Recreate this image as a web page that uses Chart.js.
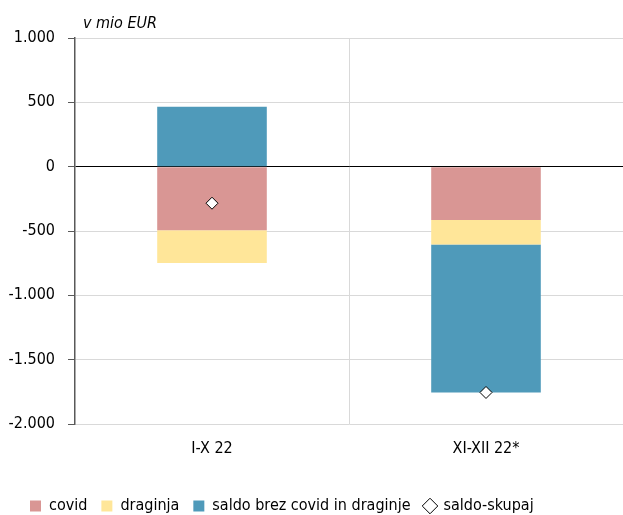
<!DOCTYPE html>
<html>
<head>
<meta charset="utf-8">
<script src="https://cdn.jsdelivr.net/npm/chart.js@4.4.0/dist/chart.umd.min.js"></script>
<style>
  html, body { margin: 0; padding: 0; background: #fff; }
  #wrap { width: 623px; height: 515px; position: relative; }
</style>
</head>
<body>
<div id="wrap"><canvas id="saldo"></canvas></div>
<script>
var kategorije = ['I-X 22', 'XI-XII 22*'];
var covid = [-495, -415];
var draginja = [-254, -190];
var saldoBrez = [465, -1150];
var saldoSkupaj = [-284, -1755];
var yTicks = [1000, 500, 0, -500, -1000, -1500, -2000];

var pisava = "'DejaVu Sans Condensed', 'DejaVu Sans', sans-serif";

function tisoc(v) {
  var s = Math.abs(v).toString().replace(/\B(?=(\d{3})+(?!\d))/g, '.');
  return (v < 0 ? '-' : '') + s;
}

// napis enote nad osjo, legenda malo v desno
var enota = {
  id: 'enota',
  afterLayout: function(chart) {
    chart.legend.left += 16;
    chart.legend.right += 16;
  },
  afterDraw: function(chart) {
    var c = chart.ctx;
    c.save();
    c.font = 'italic 16px ' + pisava;
    c.fillStyle = '#000';
    c.textBaseline = 'alphabetic';
    c.fillText('v mio EUR', 83, 28);
    c.restore();
  }
};

var ctx = document.getElementById('saldo');
var graf = new Chart(ctx, {
  type: 'bar',
  data: {
    labels: kategorije,
    datasets: [
      { label: 'covid', data: covid, backgroundColor: '#d99694', stack: 's', order: 2 },
      { label: 'draginja', data: draginja, backgroundColor: '#ffe699', stack: 's', order: 2 },
      { label: 'saldo brez covid in draginje', data: saldoBrez, backgroundColor: '#4f9aba', stack: 's', order: 2 },
      {
        type: 'line', label: 'saldo-skupaj', data: saldoSkupaj, stack: 'skupaj', order: 1,
        showLine: false, pointStyle: 'rectRot', pointRadius: 6, pointHoverRadius: 6,
        pointBackgroundColor: '#fff', pointBorderColor: '#000', pointBorderWidth: 1,
        backgroundColor: '#fff', borderColor: '#000', borderWidth: 1
      }
    ]
  },
  options: {
    responsive: true,
    maintainAspectRatio: false,
    animation: false,
    layout: { autoPadding: false, padding: { left: 0, right: 0, top: 38, bottom: -9 } },
    datasets: { bar: { barPercentage: 0.4, categoryPercentage: 1 } },
    scales: {
      x: {
        stacked: true,
        offset: true,
        afterFit: function(axis) { axis.height = 60; },
        grid: {
          offset: true,
          color: function(c) { return c.index === 1 ? '#d9d9d9' : 'rgba(0,0,0,0)'; },
          drawTicks: false
        },
        border: { display: false },
        ticks: { color: '#000', font: { family: pisava, size: 16 }, padding: 15 }
      },
      y: {
        stacked: true,
        min: -2000,
        max: 1000,
        afterBuildTicks: function(axis) { axis.ticks = yTicks.map(function(v) { return { value: v }; }); },
        afterFit: function(axis) { axis.width = 75; },
        grid: {
          color: function(c) { return c.tick && c.tick.value === 0 ? '#000' : '#d9d9d9'; },
          tickColor: '#595959',
          tickLength: 7
        },
        border: { display: true, color: '#595959', width: 1.5 },
        ticks: {
          color: '#000',
          font: { family: pisava, size: 16 },
          padding: 13,
          callback: function(v) { return tisoc(v); }
        }
      }
    },
    plugins: {
      tooltip: { enabled: false },
      legend: {
        position: 'bottom',
        align: 'start',
        labels: {
          color: '#000',
          font: { family: pisava, size: 16 },
          usePointStyle: true,
          boxWidth: 11,
          boxHeight: 11,
          padding: 14,
          sort: function(a, b) { return a.datasetIndex - b.datasetIndex; },
          generateLabels: function(chart) {
            var items = Chart.defaults.plugins.legend.labels.generateLabels(chart);
            items.forEach(function(it) {
              if (it.datasetIndex < 3) {
                it.pointStyle = 'rect';
                it.strokeStyle = it.fillStyle;
                it.lineWidth = 0;
              } else {
                it.pointStyle = 'rectRot';
                it.fillStyle = '#fff';
                it.strokeStyle = '#000';
                it.lineWidth = 1;
              }
            });
            return items;
          }
        }
      }
    }
  },
  plugins: [enota]
});
</script>
</body>
</html>
